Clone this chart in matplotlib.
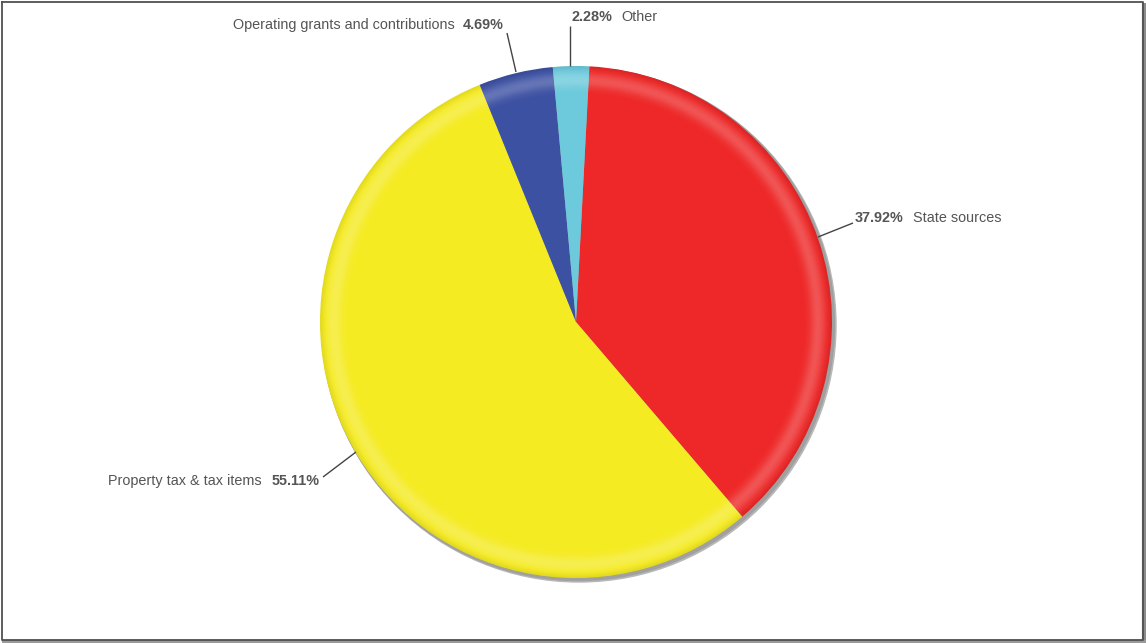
import numpy as np
import matplotlib
matplotlib.use("Agg")
import matplotlib.pyplot as plt
from matplotlib.patches import Wedge, Circle

# ---- data ----
categories = ["State sources", "Property tax & tax items",
              "Operating grants and contributions", "Other"]
values = [37.92, 55.11, 4.69, 2.28]
colors = ["#EE2828", "#F5EB22", "#3D51A3", "#6CCADC"]

W, H = 1146, 643
fig = plt.figure(figsize=(W / 100, H / 100), dpi=100)
ax = fig.add_axes([0, 0, 1, 1])

cx, cy, R = 576, H - 322, 256

# shadow
ax.add_patch(Circle((cx + 3, cy - 3), R + 1, color="#B8B8B8", zorder=1))
ax.add_patch(Circle((cx + 2, cy - 2), R + 0.5, color="#A0A0A0", zorder=1))

wedges, _ = ax.pie(values, colors=colors, startangle=87, counterclock=False,
                   center=(cx, cy), radius=R, frame=True,
                   wedgeprops=dict(linewidth=0, zorder=2))
ax.set_xlim(0, W)
ax.set_ylim(0, H)
ax.set_aspect("equal")
ax.axis("off")

# glossy ring highlight
n = 60
for i in range(n):
    r0 = R * (0.84 + 0.16 * i / n)
    r1 = R * (0.84 + 0.16 * (i + 1) / n)
    rm = (r0 + r1) / 2 / R
    a = 0.22 * np.exp(-((rm - 0.945) / 0.03) ** 2)
    if a > 0.004:
        ax.add_patch(Wedge((cx, cy), r1, 0, 360, width=r1 - r0,
                           facecolor="white", alpha=a, linewidth=0, zorder=3))
    d = 0.07 * np.exp(-((rm - 1.0) / 0.015) ** 2)
    if d > 0.004:
        ax.add_patch(Wedge((cx, cy), r1, 0, 360, width=r1 - r0,
                           facecolor="black", alpha=d, linewidth=0, zorder=3))

tc = "#555555"
fs = 10.4
fam = ["Liberation Sans", "DejaVu Sans"]

def line(p0, p1):
    ax.plot([p0[0], p1[0]], [H - p0[1], H - p1[1]], color="#444444",
            lw=1.0, zorder=5, solid_capstyle="butt")

# State sources
line((818, 237), (853, 223))
ax.text(855, H - 218, f"{values[0]:.2f}%", fontsize=fs, fontweight="bold",
        color=tc, ha="left", va="center", family=fam)
ax.text(913, H - 218, categories[0], fontsize=fs, color=tc,
        ha="left", va="center", family=fam)

# Property tax
line((356, 452), (323, 477))
ax.text(320, H - 481, f"{values[1]:.2f}%", fontsize=fs, fontweight="bold",
        color=tc, ha="right", va="center", family=fam)
ax.text(262, H - 481, categories[1], fontsize=fs, color=tc,
        ha="right", va="center", family=fam)

# Operating grants
line((507, 33), (516, 72))
ax.text(504, H - 25, f"{values[2]:.2f}%", fontsize=fs, fontweight="bold",
        color=tc, ha="right", va="center", family=fam)
ax.text(455, H - 25, categories[2], fontsize=fs, color=tc,
        ha="right", va="center", family=fam)

# Other
line((570, 26), (570, 66))
ax.text(571, H - 17, f"{values[3]:.2f}%", fontsize=fs, fontweight="bold",
        color=tc, ha="left", va="center", family=fam)
ax.text(621, H - 17, categories[3], fontsize=fs, color=tc,
        ha="left", va="center", family=fam)

# frame with shadow on right/bottom
ax.plot([W - 2, W - 2], [0, H - 3], color="#8C8C8C", lw=3, zorder=6,
        solid_capstyle="butt")
ax.plot([2, W], [1.5, 1.5], color="#9A9A9A", lw=3, zorder=6,
        solid_capstyle="butt")
ax.plot([1.5, W - 3.5, W - 3.5, 1.5, 1.5],
        [H - 1.5, H - 1.5, 3.5, 3.5, H - 1.5], color="#505050", lw=1.3,
        zorder=7)

fig.savefig("out.png", dpi=100, facecolor="white")
